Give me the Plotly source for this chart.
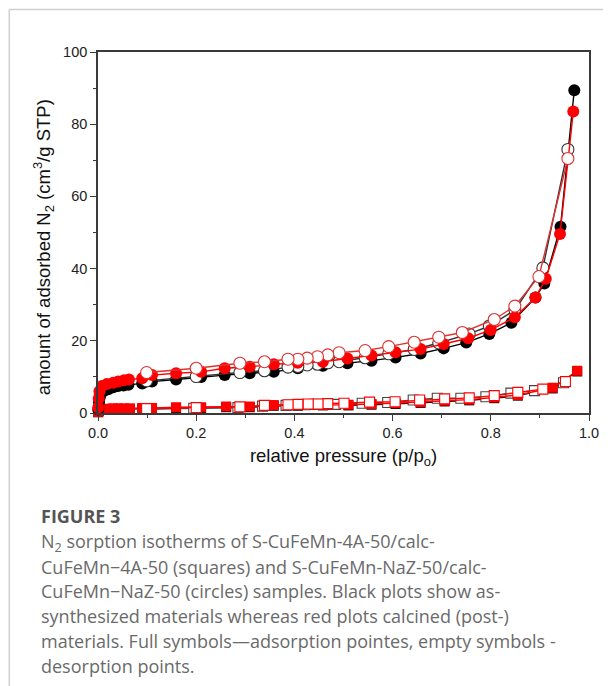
import plotly.graph_objects as go

# ---------------- data ----------------
# NaZ circles, as-synthesized (black), adsorption (filled)
naz_as_ads_p = [0.0005, 0.002, 0.004, 0.011, 0.021, 0.031, 0.041, 0.052, 0.062, 0.090, 0.110, 0.159,
                0.210, 0.258, 0.309, 0.358, 0.407, 0.458, 0.508, 0.557, 0.606, 0.657, 0.704, 0.750,
                0.797, 0.842, 0.891, 0.909, 0.942, 0.970]
naz_as_ads_v = [1.0, 3.0, 4.4, 6.0, 6.6, 7.1, 7.5, 7.6, 7.8, 8.2, 8.7, 9.3,
                10.0, 10.5, 11.0, 11.4, 12.4, 13.1, 13.8, 14.5, 15.4, 16.5, 17.9, 19.5,
                21.9, 25.0, 32.0, 35.9, 51.6, 89.4]
# NaZ circles, as-synthesized (black), desorption (empty)
naz_as_des_p = [0.957, 0.906, 0.849, 0.797, 0.756, 0.694, 0.644, 0.592, 0.544, 0.491, 0.468, 0.447,
                0.426, 0.407, 0.387, 0.339, 0.289, 0.200, 0.099]
naz_as_des_v = [73.0, 40.2, 28.5, 24.1, 21.9, 19.4, 17.6, 16.4, 15.3, 14.2, 13.9, 13.5,
                13.3, 12.9, 12.7, 11.7, 11.2, 10.1, 8.9]
# NaZ circles, calcined (red), adsorption (filled)
naz_calc_ads_p = [0.0005, 0.0015, 0.003, 0.008, 0.018, 0.031, 0.041, 0.053, 0.063, 0.090, 0.110, 0.159,
                  0.210, 0.258, 0.309, 0.358, 0.407, 0.458, 0.508, 0.557, 0.606, 0.657, 0.704, 0.754,
                  0.800, 0.849, 0.891, 0.912, 0.941, 0.968]
naz_calc_ads_v = [1.5, 4.0, 6.0, 7.5, 8.0, 8.4, 8.7, 9.1, 9.3, 9.6, 10.5, 11.0,
                  11.4, 12.4, 12.8, 13.5, 13.9, 14.2, 15.1, 15.9, 16.8, 17.7, 19.1, 20.7,
                  23.0, 26.5, 32.0, 37.2, 49.6, 83.5]
# NaZ circles, calcined (red), desorption (empty)
naz_calc_des_p = [0.957, 0.898, 0.849, 0.807, 0.742, 0.694, 0.644, 0.592, 0.544, 0.491, 0.468, 0.447,
                  0.426, 0.407, 0.387, 0.339, 0.289, 0.200, 0.099]
naz_calc_des_v = [70.5, 37.8, 29.6, 25.9, 22.3, 21.0, 19.6, 18.4, 17.3, 16.7, 16.1, 15.6,
                  15.2, 14.9, 14.9, 14.2, 13.8, 12.4, 11.2]

# 4A squares, as-synthesized (black), adsorption (filled)
a4_as_ads_p = [0.0005, 0.002, 0.008, 0.018, 0.031, 0.041, 0.053, 0.065, 0.090, 0.110, 0.159, 0.210,
               0.261, 0.309, 0.358, 0.407, 0.458, 0.510, 0.557, 0.606, 0.657, 0.706, 0.756, 0.807,
               0.855, 0.926, 0.976]
a4_as_ads_v = [0.2, 0.6, 0.9, 1.0, 1.1, 1.1, 1.1, 1.1, 1.2, 1.2, 1.4, 1.4,
               1.6, 1.6, 2.0, 2.0, 2.1, 2.1, 2.3, 2.5, 2.8, 3.2, 3.5, 4.1,
               4.8, 6.8, 11.5]
# 4A squares, as-synthesized (black), desorption (empty)
a4_as_des_p = [0.948, 0.889, 0.841, 0.790, 0.739, 0.691, 0.642, 0.590, 0.538, 0.484, 0.464, 0.442,
               0.422, 0.403, 0.383, 0.335, 0.285, 0.195, 0.095]
a4_as_des_v = [8.4, 6.2, 5.5, 4.5, 4.1, 4.1, 3.6, 2.9, 2.7, 2.4, 2.4, 2.4,
               2.3, 2.2, 2.1, 1.9, 1.5, 1.3, 1.0]
# 4A squares, calcined (red), adsorption (filled)
a4_calc_ads_p = [0.0005, 0.002, 0.008, 0.018, 0.031, 0.041, 0.053, 0.065, 0.090, 0.110, 0.159, 0.210,
                 0.261, 0.309, 0.358, 0.407, 0.458, 0.510, 0.557, 0.606, 0.657, 0.706, 0.756, 0.807,
                 0.855, 0.926, 0.976]
a4_calc_ads_v = [0.3, 0.8, 1.1, 1.2, 1.3, 1.3, 1.3, 1.3, 1.4, 1.4, 1.6, 1.6,
                 1.8, 1.8, 2.2, 2.2, 2.3, 2.3, 2.5, 2.7, 3.0, 3.4, 3.7, 4.3,
                 5.0, 7.0, 11.7]
# 4A squares, calcined (red), desorption (empty)
a4_calc_des_p = [0.952, 0.906, 0.855, 0.807, 0.756, 0.706, 0.655, 0.605, 0.553, 0.501, 0.468, 0.448,
                 0.428, 0.407, 0.387, 0.339, 0.289, 0.200, 0.099]
a4_calc_des_v = [8.7, 6.6, 5.7, 4.8, 4.2, 3.9, 3.6, 3.1, 3.0, 2.7, 2.6, 2.5,
                 2.5, 2.4, 2.3, 2.1, 1.7, 1.5, 1.2]

x_tick_vals = [0.0, 0.2, 0.4, 0.6, 0.8, 1.0]
x_tick_text = ["0.0", "0.2", "0.4", "0.6", "0.8", "1.0"]
y_tick_vals = [0, 20, 40, 60, 80, 100]
y_tick_text = ["0", "20", "40", "60", "80", "100"]

x_title = "relative pressure (p/p<sub>o</sub>)"
y_title = "amount of adsorbed N<sub>2</sub> (cm<sup>3</sup>/g STP)"

caption_title = "FIGURE 3"
caption_lines = [
    "N<sub>2</sub> sorption isotherms of S-CuFeMn-4A-50/calc-",
    "CuFeMn\u22124A-50 (squares) and S-CuFeMn-NaZ-50/calc-",
    "CuFeMn\u2212NaZ-50 (circles) samples. Black plots show as-",
    "synthesized materials whereas red plots calcined (post-)",
    "materials. Full symbols\u2014adsorption pointes, empty symbols -",
    "desorption points.",
]

# ---------------- figure ----------------
BLACK = "#000000"
RED = "#ff0000"

fig = go.Figure()


def add(p, v, color, symbol, filled, size):
    fig.add_trace(go.Scatter(
        x=p, y=v, mode="lines+markers",
        line=dict(color=color, width=1.4),
        marker=dict(symbol=symbol, size=size,
                    color=color if filled else "white",
                    line=dict(color=color, width=1.1 if not filled else 0)),
        showlegend=False, cliponaxis=False,
    ))


add(a4_as_ads_p, a4_as_ads_v, BLACK, "square", True, 10)
add(a4_as_des_p, a4_as_des_v, "#444444", "square", False, 10)
add(a4_calc_ads_p, a4_calc_ads_v, RED, "square", True, 10)
add(a4_calc_des_p, a4_calc_des_v, RED, "square", False, 10)
add(naz_as_ads_p, naz_as_ads_v, BLACK, "circle", True, 12)
add(naz_as_des_p, naz_as_des_v, "#333333", "circle", False, 12)
add(naz_calc_ads_p, naz_calc_ads_v, RED, "circle", True, 12)
add(naz_calc_des_p, naz_calc_des_v, "#e03030", "circle", False, 12)

axis_common = dict(
    showline=True, linecolor="#3a3a3a", linewidth=1.6, mirror=True,
    ticks="outside", ticklen=6, tickwidth=1.4, tickcolor="#3a3a3a",
    showgrid=False, zeroline=False,
    tickfont=dict(family="Liberation Sans, Arial", size=14.5, color="#222222"),
    minor=dict(ticks="outside", ticklen=3.5, tickwidth=1.2, tickcolor="#3a3a3a", showgrid=False),
)

title_font = dict(family="Liberation Sans, Arial", size=18.5, color="#111111")

fig.update_xaxes(range=[0, 1.0], tickvals=x_tick_vals, ticktext=x_tick_text,
                 minor_dtick=0.1,
                 title=dict(text=x_title, standoff=9, font=title_font),
                 **axis_common)
fig.update_yaxes(range=[0, 100], tickvals=y_tick_vals, ticktext=y_tick_text,
                 minor_dtick=10,
                 **axis_common)

# page has an 8px body margin: figure coordinates = page coordinates - 8
OFF = 8
W, H = 603, 678
L, R, T, B = 98 - OFF, 19, 52 - OFF, 273
pw, ph = W - L - R, H - T - B


def px2x(px):
    return (px - OFF - L) / pw


def py2y(py):
    return (H - B - (py - OFF)) / ph


# y-axis title (sits a little below the axis centre, as in the original)
fig.add_annotation(text=y_title, textangle=-90, xref="paper", yref="paper",
                   x=px2x(44), y=py2y(247), xanchor="center", yanchor="middle",
                   showarrow=False, font=title_font)

# card frame (top and left light gray border)
fig.add_shape(type="line", xref="paper", yref="paper",
              x0=px2x(8.75), x1=px2x(619), y0=py2y(9.5), y1=py2y(9.5),
              line=dict(color="#d0d0d0", width=1.5))
fig.add_shape(type="line", xref="paper", yref="paper",
              x0=px2x(8.75), x1=px2x(8.75), y0=py2y(9.5), y1=py2y(690),
              line=dict(color="#d0d0d0", width=1.5))

cap_font = "Open Sans, Noto Sans, sans-serif"
fig.add_annotation(text="<b>" + caption_title + "</b>", xref="paper", yref="paper",
                   x=px2x(40), y=py2y(516), xanchor="left", yanchor="middle", showarrow=False,
                   borderpad=0, font=dict(family=cap_font, size=18, color="#555555"))
for i, line in enumerate(caption_lines):
    fig.add_annotation(text=line, xref="paper", yref="paper",
                       x=px2x(40), y=py2y(542 + 24.7 * i), xanchor="left", yanchor="middle",
                       showarrow=False, borderpad=0,
                       font=dict(family=cap_font, size=18, color="#6a6a6a"))

fig.update_layout(
    width=W, height=H, autosize=False,
    margin=dict(l=L, r=R, t=T, b=B, pad=0),
    paper_bgcolor="white", plot_bgcolor="white",
)

fig.write_html("out.html")
